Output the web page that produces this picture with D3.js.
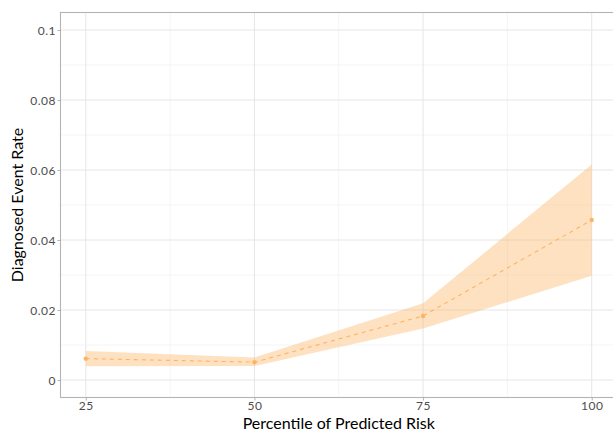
<!DOCTYPE html>
<html><head><meta charset="utf-8">
<script src="https://cdn.jsdelivr.net/npm/d3@7"></script>
<style>
html,body{margin:0;padding:0;background:#fff;overflow:hidden}
text{font-family:Lato,"Open Sans",sans-serif}
</style></head>
<body>
<svg id="c" width="613" height="434"></svg>
<script>
const percentiles = [25, 50, 75, 100];
const rate = [0.0061, 0.0051, 0.0183, 0.0457];
const lower = [0.0039, 0.0040, 0.0147, 0.0298];
const upper = [0.0083, 0.0064, 0.0219, 0.0616];
const xTicks = [25, 50, 75, 100];
const xMinor = [37.5, 62.5, 87.5];
const yTicks = [0, 0.02, 0.04, 0.06, 0.08, 0.1];
const yMinor = [0.01, 0.03, 0.05, 0.07, 0.09];
const yTickLabels = ["0", "0.02", "0.04", "0.06", "0.08", "0.1"];

const svg = d3.select("#c");
const L = 60.5, R = 617, T = 12.5, B = 397.5;
const x = d3.scaleLinear().domain([21.25, 103.75]).range([L, R]);
const y = d3.scaleLinear().domain([-0.005, 0.105]).range([B, T]);

const g = svg.append("g");
g.selectAll(".ymin").data(yMinor).join("line")
  .attr("x1", L).attr("x2", R).attr("y1", d => y(d)).attr("y2", d => y(d))
  .attr("stroke", "#f2f2f2").attr("stroke-width", 0.8);
g.selectAll(".xmin").data(xMinor).join("line")
  .attr("y1", T).attr("y2", B).attr("x1", d => x(d)).attr("x2", d => x(d))
  .attr("stroke", "#f2f2f2").attr("stroke-width", 0.8);
g.selectAll(".ymaj").data(yTicks).join("line")
  .attr("x1", L).attr("x2", R).attr("y1", d => y(d)).attr("y2", d => y(d))
  .attr("stroke", "#e6e6e6").attr("stroke-width", 1);
g.selectAll(".xmaj").data(xTicks).join("line")
  .attr("y1", T).attr("y2", B).attr("x1", d => x(d)).attr("x2", d => x(d))
  .attr("stroke", "#e6e6e6").attr("stroke-width", 1);

const data = percentiles.map((p, i) => ({p, r: rate[i], lo: lower[i], hi: upper[i]}));
g.append("path").datum(data)
  .attr("d", d3.area().x(d => x(d.p)).y0(d => y(d.lo)).y1(d => y(d.hi)))
  .attr("fill", "#FDB462").attr("fill-opacity", 0.4);
g.append("path").datum(data)
  .attr("d", d3.line().x(d => x(d.p)).y(d => y(d.r)))
  .attr("fill", "none").attr("stroke", "#FDB462").attr("stroke-width", 1.1)
  .attr("stroke-dasharray", "4,4");
g.selectAll(".pt").data(data).join("circle")
  .attr("cx", d => x(d.p)).attr("cy", d => y(d.r)).attr("r", 2.2)
  .attr("fill", "#FDB462");

svg.append("rect").attr("x", L).attr("y", T).attr("width", R - L).attr("height", B - T)
  .attr("fill", "none").attr("stroke", "#b3b3b3").attr("stroke-width", 1.1);

const ya = svg.append("g").attr("transform", `translate(${L},0)`)
  .call(d3.axisLeft(y).tickValues(yTicks).tickFormat((d, i) => yTickLabels[i]).tickSize(3));
const xa = svg.append("g").attr("transform", `translate(0,${B})`)
  .call(d3.axisBottom(x).tickValues(xTicks).tickFormat(d3.format("d")).tickSize(3));
[ya, xa].forEach(a => {
  a.select(".domain").remove();
  a.selectAll(".tick line").attr("stroke", "#b3b3b3");
  a.selectAll(".tick text").attr("fill", "#4d4d4d").style("font-size", "12px")
    .style("font-family", "Lato, sans-serif").style("letter-spacing", "0.5px");
});
ya.selectAll(".tick text").attr("x", -4.5).attr("dy", "0.36em");
xa.selectAll(".tick text").attr("y", 12.8).attr("dy", 0);

svg.append("text").attr("x", (L + R) / 2).attr("y", 428.5).attr("text-anchor", "middle")
  .style("font-size", "16px").attr("fill", "#000").text("Percentile of Predicted Risk");
svg.append("text").attr("transform", `translate(23,${(T + B) / 2}) rotate(-90)`).attr("text-anchor", "middle")
  .style("font-size", "16px").attr("fill", "#000").text("Diagnosed Event Rate");
</script>
</body></html>
